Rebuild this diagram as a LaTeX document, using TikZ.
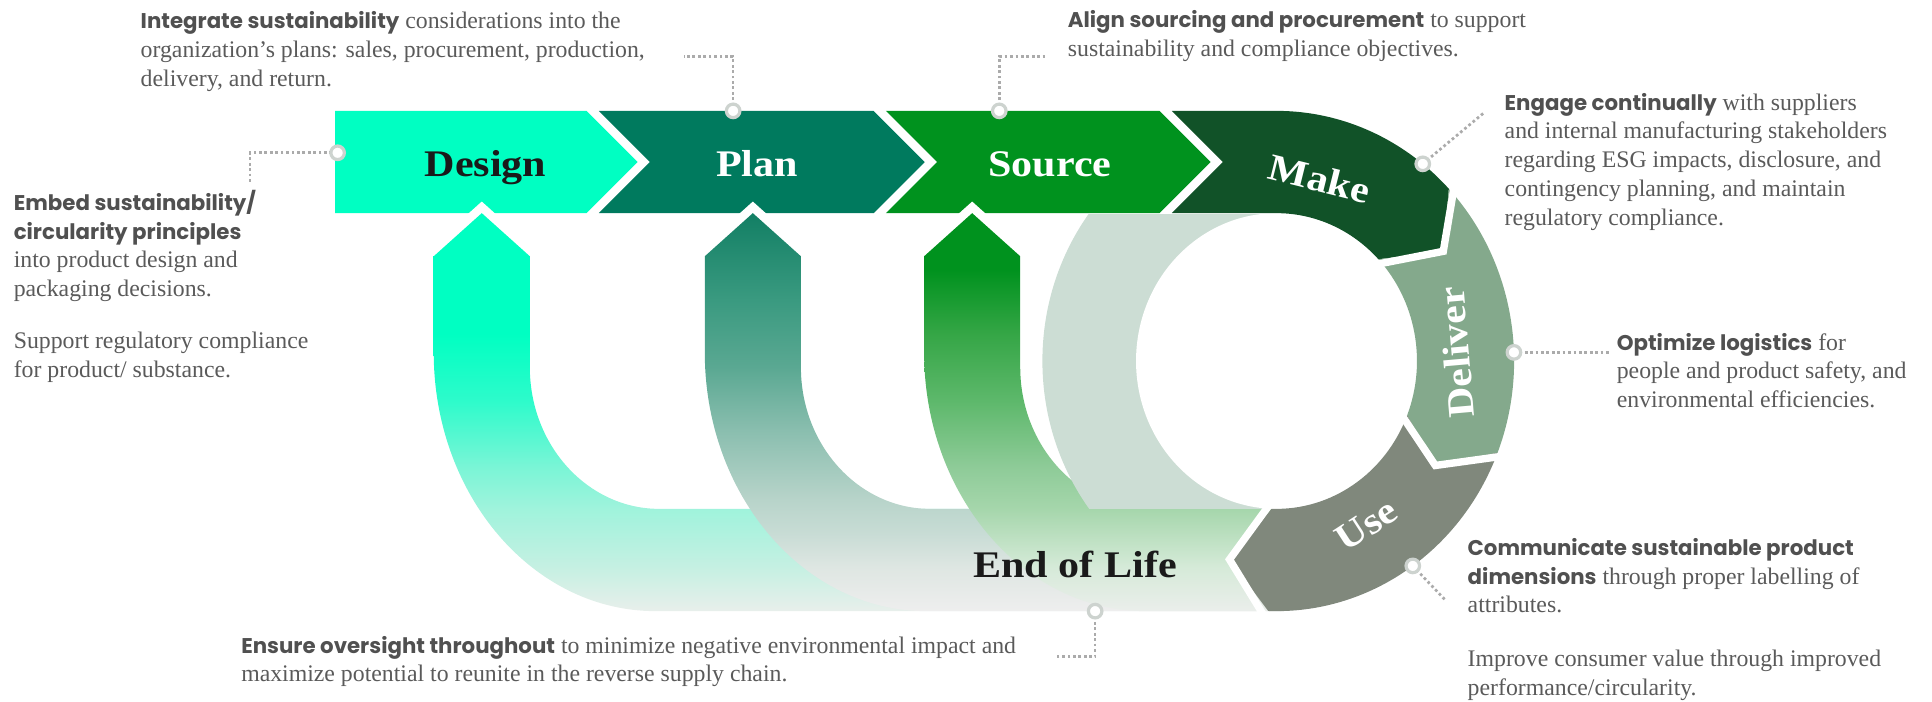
\documentclass[tikz,border=0pt]{standalone}
\usepackage{fontspec}
\setmainfont{Liberation Serif}
\newfontfamily\labelfont{Liberation Serif}[FakeStretch=1.12]
\newfontfamily\leadfont{Poppins}
\definecolor{cDesign}{HTML}{00FFC2}
\definecolor{cPlan}{HTML}{007A5E}
\definecolor{cSource}{HTML}{00921E}
\definecolor{cMake}{HTML}{115228}
\definecolor{cDeliver}{HTML}{84A98C}
\definecolor{cUse}{HTML}{80887C}
\definecolor{cLight}{HTML}{CCDDD4}
\definecolor{cText}{HTML}{5A5A5A}
\definecolor{cLead}{HTML}{505050}
\definecolor{cDot}{HTML}{ABABAB}
\definecolor{cMark}{HTML}{CDD3CF}
\definecolor{cDark}{HTML}{1A1A1A}
% gradients
\definecolor{d0}{HTML}{E8EFEB}\definecolor{d1}{HTML}{C5F0E2}\definecolor{d2}{HTML}{9FF3DC}
\definecolor{d3}{HTML}{7AF5D6}\definecolor{d4}{HTML}{2DFBCB}\definecolor{d5}{HTML}{00FFC2}
\definecolor{p0}{HTML}{EEEEEE}\definecolor{p1}{HTML}{DEE6E2}\definecolor{p2}{HTML}{C8DCD5}
\definecolor{p3}{HTML}{B8D4CA}\definecolor{p4}{HTML}{8CBFB0}\definecolor{p5}{HTML}{5AA892}
\definecolor{p6}{HTML}{3A9A80}\definecolor{p7}{HTML}{127F64}
\definecolor{s0}{HTML}{EBEEEB}\definecolor{s1}{HTML}{D5EAD8}\definecolor{s2}{HTML}{A5D6AB}
\definecolor{s3}{HTML}{8ECB98}\definecolor{s4}{HTML}{5DB86B}\definecolor{s5}{HTML}{35A646}
\definecolor{s6}{HTML}{00921E}
\pgfdeclareverticalshading{dshade}{100bp}{color(0bp)=(d0); color(25bp)=(d0); color(30.57bp)=(d1); color(37.93bp)=(d2); color(43.11bp)=(d3); color(51.47bp)=(d4); color(59.83bp)=(d5); color(100bp)=(d5)}
\pgfdeclareverticalshading{pshade}{100bp}{color(0bp)=(p0); color(25bp)=(p0); color(30.57bp)=(p1); color(34.75bp)=(p2); color(38.93bp)=(p3); color(47.34bp)=(p4); color(55.71bp)=(p5); color(64.09bp)=(p6); color(75bp)=(p7); color(100bp)=(p7)}
\pgfdeclareverticalshading{sshade}{100bp}{color(0bp)=(s0); color(25bp)=(s0); color(30.57bp)=(s1); color(37.93bp)=(s2); color(43.11bp)=(s3); color(51.47bp)=(s4); color(59.83bp)=(s5); color(67.88bp)=(s6); color(100bp)=(s6)}
\newcommand{\leadtxt}[1]{{\leadfont\bfseries\fontsize{17.3}{23.3}\selectfont\color{cLead}#1}}
\tikzset{
  lbl/.style={font=\labelfont\bfseries\fontsize{30.5}{34}\selectfont, inner sep=0},
  body/.style={font=\fontsize{19.3}{23.3}\selectfont, text=cText, align=left, inner sep=0, anchor=north west},
  marker/.style={circle, minimum size=11pt, inner sep=0, fill=white, draw=cMark, line width=2.6pt},
  leader/.style={draw=cDot, line width=2.2pt, dash pattern=on 2.2pt off 2.2pt},
  sepline/.style={draw=white, line width=6pt, line join=miter},
  tipsep/.style={draw=white, line width=14pt, line join=miter},
}
\begin{document}
\begin{tikzpicture}[x=1pt,y=1pt]
\useasboundingbox (0,0) rectangle (1568,569);
% ---------- top band chevrons
\fill[cDesign] (272,479) -- (476,479) -- (517.5,437.5) -- (476,396) -- (272,396) -- cycle;
\fill[cPlan] (486,479) -- (709,479) -- (750.5,437.5) -- (709,396) -- (486,396) -- (527.5,437.5) -- cycle;
\fill[cSource] (719,479) -- (941,479) -- (982.5,437.5) -- (941,396) -- (719,396) -- (760.5,437.5) -- cycle;
% ---------- U-shaped return arrows
\draw[tipsep] (352,361) -- (391,396) -- (430,361);
\shade[shading=dshade] (352,361) -- (391,396) -- (430,361) -- (430,271)
  arc[start angle=180,end angle=270,x radius=105,y radius=115] -- (1040,156) -- (1040,73) -- (532,73)
  arc[start angle=270,end angle=180,x radius=180,y radius=210] -- cycle;
\draw[tipsep] (572,361) -- (611,396) -- (650,361);
\shade[shading=pshade] (572,361) -- (611,396) -- (650,361) -- (650,271)
  arc[start angle=180,end angle=270,x radius=105,y radius=115] -- (1040,156) -- (1040,73) -- (752,73)
  arc[start angle=270,end angle=180,x radius=180,y radius=210] -- cycle;
\draw[tipsep] (750,361) -- (789,396) -- (828,361);
\shade[shading=sshade] (750,361) -- (789,396) -- (828,361) -- (828,271)
  arc[start angle=180,end angle=270,x radius=105,y radius=115] -- (1040,156) -- (1040,73) -- (930,73)
  arc[start angle=270,end angle=180,x radius=180,y radius=210] -- cycle;
% ---------- ring
\begin{scope}[shift={(1036,276)},xscale=0.95]
  \begin{scope}
    \clip (-215,-120) rectangle (0,118.5);
    \fill[cLight] (0,0) circle[radius=200];
  \end{scope}
  \fill[white] (0,0) circle[radius=120];
  \fill[cMake] (-89.47,203) -- (0,203) arc[start angle=90,end angle=43.5,radius=203] -- (32:168)
    -- (43.5:120) arc[start angle=43.5,end angle=90,radius=120] -- (-89.47,120) -- (-45.8,161.5) -- cycle;
  \fill[cDeliver] (43.5:203) arc[start angle=43.5,end angle=-21.5,radius=203] -- (-32:160)
    -- (-21.5:120) arc[start angle=-21.5,end angle=43.5,radius=120] -- (32:168) -- cycle;
  \fill[cUse] (-21.5:203) arc[start angle=-21.5,end angle=-92,radius=203] -- (-104:166)
    -- (-92:120) arc[start angle=-92,end angle=-21.5,radius=120] -- (-32:160) -- cycle;
  \draw[sepline] (43.5:210) -- (32:168) -- (43.5:113);
  \draw[sepline] (-21.5:210) -- (-32:160) -- (-21.5:113);
  \draw[sepline] (-92:212) -- (-104:166) -- (-92:114);
\end{scope}
% ---------- stage labels
\node[lbl, text=cDark, anchor=base] (tDesign) at (394,425.6) {Design};
\node[lbl, text=white, anchor=base] (tPlan) at (614.5,425.6) {Plan};
\node[lbl, text=white, anchor=base] (tSource) at (852,425.6) {Source};
\node[lbl, text=white, rotate=-14] (tMake) at (1071,424) {Make};
\node[lbl, text=white, rotate=95] (tDeliver) at (1182,283) {Deliver};
\node[lbl, text=white, rotate=33] (tUse) at (1109,143) {Use};
\node[lbl, text=cDark, anchor=base] (tEoL) at (872.5,100) {End of Life};
% ---------- leaders
\coordinate (pDesign) at (274,445);   \coordinate (kDesign) at (203,445);   \coordinate (eDesign) at (203,421.5);
\coordinate (pPlan) at (595,479);     \coordinate (kPlan) at (595,523);     \coordinate (ePlan) at (555,523);
\coordinate (pSource) at (811,479);   \coordinate (kSource) at (811,523);   \coordinate (eSource) at (849,523);
\coordinate (pMake) at (1154.7,436);  \coordinate (eMake) at (1205,478);
\coordinate (pDeliver) at (1228.7,283); \coordinate (eDeliver) at (1306,283);
\coordinate (pUse) at (1146.6,109.7); \coordinate (eUse) at (1173,82);
\coordinate (pEoL) at (888.8,73);     \coordinate (kEoL) at (888.8,36);     \coordinate (eEoL) at (858,36);
\draw[leader] (pDesign) -- (kDesign) -- (eDesign);
\draw[leader] (pPlan) -- (kPlan) -- (ePlan);
\draw[leader] (pSource) -- (kSource) -- (eSource);
\draw[leader] (pMake) -- (eMake);
\draw[leader] (pDeliver) -- (eDeliver);
\draw[leader] (pUse) -- (eUse);
\draw[leader] (pEoL) -- (kEoL) -- (eEoL);
\foreach \m in {Design,Plan,Source,Make,Deliver,Use,EoL} \node[marker] (m\m) at (p\m) {};
% ---------- descriptions
\node[body] (dPlan) at (114,562.3) {\strut\leadtxt{Integrate sustainability} considerations into the\\
  organization’s plans: sales, procurement, production,\\ delivery, and return.};
\node[body] (dDesign) at (11,414.8) {\strut\leadtxt{Embed sustainability/}\\ \leadtxt{circularity principles}\\
  into product design and\\ packaging decisions.\\[19.1pt] Support regulatory compliance\\ for product/ substance.};
\node[body] (dSource) at (866.5,563.3) {\strut\leadtxt{Align sourcing and procurement} to support\\
  sustainability and compliance objectives.};
\node[body] (dMake) at (1221,496) {\strut\leadtxt{Engage continually} with suppliers\\
  and internal manufacturing stakeholders\\ regarding ESG impacts, disclosure, and\\
  contingency planning, and maintain\\ regulatory compliance.};
\node[body] (dDeliver) at (1312,301.3) {\strut\leadtxt{Optimize logistics} for\\
  people and product safety, and\\ environmental efficiencies.};
\node[body] (dUse) at (1191,134.8) {\strut\leadtxt{Communicate sustainable product}\\
  \leadtxt{dimensions} through proper labelling of\\ attributes.\\[20.6pt]
  Improve consumer value through improved\\ performance/circularity.};
\node[body] (dEoL) at (195.6,55.3) {\strut\leadtxt{Ensure oversight throughout} to minimize negative environmental impact and\\
  maximize potential to reunite in the reverse supply chain.};
\end{tikzpicture}
\end{document}
